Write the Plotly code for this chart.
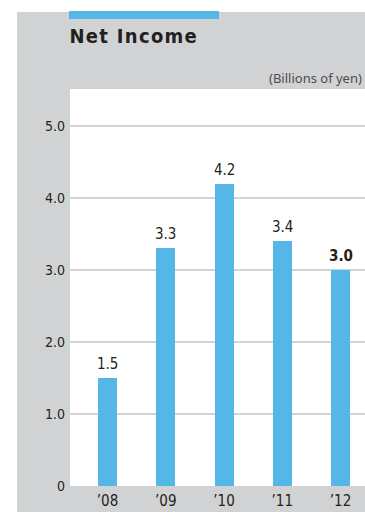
import plotly.graph_objects as go

# Net income by fiscal year (billions of yen)
years = ["\u201908", "\u201909", "\u201910", "\u201911", "\u201912"]
net_income = [1.5, 3.3, 4.2, 3.4, 3.0]
y_ticks = [0, 1, 2, 3, 4, 5]
y_tick_labels = ["0", "1.0", "2.0", "3.0", "4.0", "5.0"]

W, H = 365, 512
L, R, T, B = 70, 0, 89, 26
PW, PH = W - L - R, H - T - B

BLUE = "#55b7e7"
GRAY = "#d1d2d4"
INK = "#231f20"
FONT = "DejaVu Sans Condensed, sans-serif"

def px_x(p):
    return (p - L) / PW

def px_y(p):
    return (H - B - p) / PH

xs = list(range(len(years)))

fig = go.Figure(
    go.Bar(
        x=xs,
        y=net_income,
        width=0.326,
        marker=dict(color=BLUE, line=dict(width=0)),
        hoverinfo="skip",
    )
)

# value labels above each bar; latest year in bold
annotations = []
for i, v in enumerate(net_income):
    label = f"{v:.1f}"
    if i == len(net_income) - 1:
        label = f"<b>{label}</b>"
    annotations.append(
        dict(
            x=i, y=v, xref="x", yref="y", text=label, showarrow=False,
            yanchor="middle", yshift=14,
            font=dict(family=FONT, size=15, color=INK),
        )
    )

annotations.append(
    dict(
        x=px_x(134), y=px_y(36.5), xref="paper", yref="paper",
        text="<b>Net Income</b>", showarrow=False,
        xanchor="center", yanchor="middle",
        font=dict(family=FONT, size=20, color=INK),
    )
)
annotations.append(
    dict(
        x=px_x(364), y=px_y(78), xref="paper", yref="paper",
        text="(Billions of yen)", showarrow=False,
        xanchor="right", yanchor="middle",
        font=dict(family="Noto Sans, sans-serif", size=13, color="#4d4d4f"),
    )
)

shapes = [
    # white margins outside the grey panel (left strip and top strip)
    dict(type="rect", xref="paper", yref="paper", layer="below",
         x0=px_x(-5), x1=px_x(17), y0=px_y(H + 5), y1=px_y(-5),
         fillcolor="white", line=dict(width=0)),
    dict(type="rect", xref="paper", yref="paper", layer="below",
         x0=px_x(-5), x1=px_x(W + 5), y0=px_y(12), y1=px_y(-5),
         fillcolor="white", line=dict(width=0)),
    # blue accent bar over the heading
    dict(type="rect", xref="paper", yref="paper", layer="above",
         x0=px_x(69), x1=px_x(219), y0=px_y(19), y1=px_y(11),
         fillcolor=BLUE, line=dict(width=0)),
]

fig.update_layout(
    width=W, height=H,
    margin=dict(l=L, r=R, t=T, b=B, pad=0),
    paper_bgcolor=GRAY,
    plot_bgcolor="white",
    showlegend=False,
    bargap=0,
    annotations=annotations,
    shapes=shapes,
    xaxis=dict(
        range=[-0.6438, 4.4206],
        tickvals=xs, ticktext=years,
        showgrid=False, zeroline=False, showline=False, ticks="",
        tickfont=dict(family=FONT, size=15, color=INK),
        ticklabelstandoff=4,
        fixedrange=True,
    ),
    yaxis=dict(
        range=[0, PH / 72.0],
        tickvals=y_ticks, ticktext=y_tick_labels,
        showgrid=True, gridcolor="#d3d3d3", gridwidth=1.5,
        zeroline=False, showline=False, ticks="",
        tickfont=dict(family=FONT, size=14, color=INK),
        ticklabelstandoff=4,
        fixedrange=True,
    ),
)

# widen the tracking of the heading text
letter_spacing_js = """
document.querySelectorAll('.annotation-text').forEach(function (t) {
  if (t.textContent === 'Net Income') { t.style.letterSpacing = '1.3px'; }
});
"""

fig.write_html("out.html", config=dict(displayModeBar=False),
               post_script=letter_spacing_js)
